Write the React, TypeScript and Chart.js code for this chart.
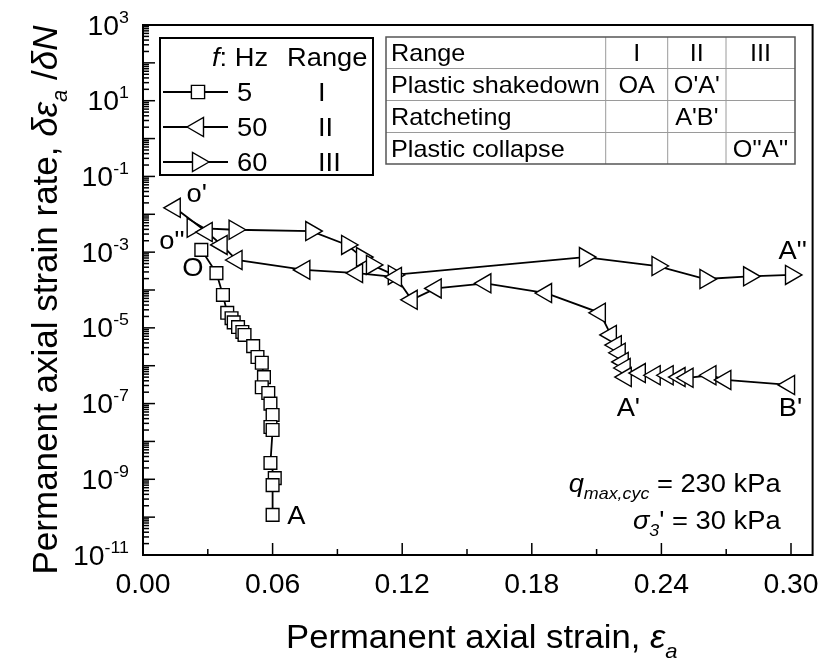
import React, { useEffect, useRef } from 'react';
import { Chart, registerables } from 'chart.js';

Chart.register(...registerables);

// f = 5 Hz, range I: permanent axial strain and its rate per cycle
const STRAIN_5HZ = [0.027, 0.034, 0.037, 0.039, 0.041, 0.042, 0.044, 0.046, 0.047, 0.051, 0.053, 0.055, 0.056, 0.055, 0.058, 0.059, 0.06, 0.059, 0.06, 0.059, 0.061, 0.06, 0.06];
const RATE_5HZ = [1.15e-3, 2.8e-4, 7.4e-5, 2.5e-5, 1.8e-5, 1.4e-5, 1.05e-5, 7.8e-6, 6.5e-6, 3.3e-6, 1.7e-6, 1.2e-6, 5.0e-7, 2.7e-7, 1.9e-7, 1.0e-7, 5.0e-8, 2.4e-8, 2.0e-8, 2.7e-9, 1.07e-9, 7.0e-10, 1.15e-10];

// f = 50 Hz, range II
const STRAIN_50HZ = [0.0147, 0.0295, 0.0364, 0.0433, 0.0747, 0.0991, 0.1171, 0.1244, 0.1355, 0.1585, 0.1866, 0.2115, 0.2166, 0.2189, 0.2207, 0.2221, 0.223, 0.2235, 0.23, 0.2369, 0.2429, 0.2484, 0.2521, 0.2627, 0.2696, 0.2991];
const RATE_50HZ = [1.48e-2, 3.4e-3, 1.55e-3, 6.2e-4, 3.4e-4, 2.8e-4, 2.2e-4, 5.5e-5, 1.1e-4, 1.5e-4, 8.3e-5, 2.5e-5, 6.5e-6, 3.5e-6, 2.2e-6, 1.26e-6, 8.7e-7, 5.0e-7, 6.4e-7, 5.6e-7, 5.6e-7, 5.0e-7, 4.8e-7, 5.6e-7, 4.2e-7, 3.1e-7];

// f = 60 Hz, range III
const STRAIN_60HZ = [0.023, 0.0424, 0.0779, 0.0945, 0.1014, 0.106, 0.1161, 0.2046, 0.2382, 0.2604, 0.2806, 0.3];
const RATE_60HZ = [4.4e-3, 3.9e-3, 3.6e-3, 1.55e-3, 7.4e-4, 4.6e-4, 2.5e-4, 7.4e-4, 4.3e-4, 1.95e-4, 2.3e-4, 2.5e-4];

// Axis ticks
const X_MIN = 0;
const X_MAX = 0.31;
const X_TICKS = [0, 0.06, 0.12, 0.18, 0.24, 0.3];
const X_MINOR_TICKS = [0.03, 0.09, 0.15, 0.21, 0.27];
const Y_MIN_EXP = -11;
const Y_MAX_EXP = 3;
const Y_LABEL_EXPS = [3, 1, -1, -3, -5, -7, -9, -11];

// Legend rows
const FREQS = ['5', '50', '60'];
const RANGES = ['I', 'II', 'III'];
const MARKERS = ['square', 'left', 'right'];

// Behaviour table
const TABLE_HEAD = ['Range', 'I', 'II', 'III'];
const TABLE_ROW_NAMES = ['Plastic shakedown', 'Ratcheting', 'Plastic collapse'];
const TABLE_RANGE_I = ['OA', '', ''];
const TABLE_RANGE_II = ["O'A'", "A'B'", ''];
const TABLE_RANGE_III = ['', '', "O''A''"];

// Point labels placed in data coordinates
const POINT_LABEL_TEXT = ["o'", "o''", 'O', 'A', "A'", "B'", "A''"];
const POINT_LABEL_X = [0.0249, 0.0134, 0.0231, 0.071, 0.2247, 0.2998, 0.3008];
const POINT_LABEL_Y = [3.6e-2, 2.1e-3, 4.1e-4, 1.15e-10, 8.1e-8, 8.1e-8, 1.14e-3];

const FONT = '"Liberation Sans", Arial, sans-serif';
const SX = 1.05;

type Seg = { t: string; size: number; italic?: boolean; dy?: number };

function fontOf(s: Seg) {
  return `${s.italic ? 'italic ' : ''}${s.size}px ${FONT}`;
}

function drawRich(ctx: CanvasRenderingContext2D, segs: Seg[], x: number, y: number, align: 'left' | 'center' | 'right', sx = SX) {
  const widths = segs.map((s) => {
    ctx.font = fontOf(s);
    return ctx.measureText(s.t).width * sx;
  });
  const total = widths.reduce((a, b) => a + b, 0);
  let cx = align === 'left' ? x : align === 'center' ? x - total / 2 : x - total;
  ctx.textAlign = 'left';
  ctx.textBaseline = 'alphabetic';
  segs.forEach((s, i) => {
    ctx.font = fontOf(s);
    ctx.save();
    ctx.translate(cx, y + (s.dy || 0));
    ctx.scale(sx, 1);
    ctx.fillText(s.t, 0, 0);
    ctx.restore();
    cx += widths[i];
  });
}

function drawMarker(ctx: CanvasRenderingContext2D, kind: string, x: number, y: number) {
  ctx.beginPath();
  if (kind === 'square') {
    const h = 6.6;
    ctx.rect(x - h, y - h, 2 * h, 2 * h);
  } else {
    const r = 11;
    const d = kind === 'left' ? -1 : 1;
    ctx.moveTo(x + d * r, y);
    ctx.lineTo(x - (d * r) / 2, y + r * 0.866);
    ctx.lineTo(x - (d * r) / 2, y - r * 0.866);
    ctx.closePath();
  }
  ctx.fillStyle = '#fff';
  ctx.fill();
  ctx.lineWidth = 1.4;
  ctx.strokeStyle = '#000';
  ctx.stroke();
}

function line(ctx: CanvasRenderingContext2D, x1: number, y1: number, x2: number, y2: number) {
  ctx.beginPath();
  ctx.moveTo(x1, y1);
  ctx.lineTo(x2, y2);
  ctx.stroke();
}

const axesPlugin = {
  id: 'originAxes',
  beforeDatasetsDraw(chart: any) {
    const { ctx, chartArea } = chart;
    const { left, right, top, bottom } = chartArea;
    const xs = chart.scales.x;
    const ys = chart.scales.y;
    ctx.save();
    ctx.strokeStyle = '#000';
    ctx.lineWidth = 1.5;
    // inward x ticks
    X_TICKS.forEach((v) => {
      const px = xs.getPixelForValue(v);
      line(ctx, px, bottom, px, bottom - 12);
    });
    X_MINOR_TICKS.forEach((v) => {
      const px = xs.getPixelForValue(v);
      line(ctx, px, bottom, px, bottom - 6);
    });
    // inward y ticks on the log axis
    for (let e = Y_MIN_EXP; e <= Y_MAX_EXP; e++) {
      const py = ys.getPixelForValue(Math.pow(10, e));
      line(ctx, left, py, left + 12, py);
      if (e < Y_MAX_EXP) {
        for (let m = 2; m <= 9; m++) {
          const pm = ys.getPixelForValue(m * Math.pow(10, e));
          line(ctx, left, pm, left + 6, pm);
        }
      }
    }
    // frame
    ctx.lineWidth = 2;
    ctx.strokeRect(left, top, right - left, bottom - top);
    ctx.restore();
  },
  afterDatasetsDraw(chart: any) {
    const { ctx, chartArea } = chart;
    const { left, right, top, bottom } = chartArea;
    const xs = chart.scales.x;
    const ys = chart.scales.y;
    ctx.save();
    ctx.fillStyle = '#000';

    // x tick labels
    X_TICKS.forEach((v) => {
      drawRich(ctx, [{ t: v.toFixed(2), size: 27 }], xs.getPixelForValue(v), bottom + 38, 'center');
    });
    // y tick labels as powers of ten
    Y_LABEL_EXPS.forEach((e) => {
      const py = ys.getPixelForValue(Math.pow(10, e));
      drawRich(ctx, [{ t: '10', size: 27 }, { t: String(e), size: 17, dy: -12 }], left - 14, py + 9.5, 'right');
    });

    // axis titles
    const cx = (left + right) / 2;
    drawRich(
      ctx,
      [
        { t: 'Permanent axial strain, ', size: 33 },
        { t: 'ε', size: 33, italic: true },
        { t: 'a', size: 21, italic: true, dy: 10 },
      ],
      cx + 4,
      bottom + 93,
      'center'
    );
    ctx.save();
    ctx.translate(57, 300);
    ctx.rotate(-Math.PI / 2);
    drawRich(
      ctx,
      [
        { t: 'Permanent axial strain rate, ', size: 35 },
        { t: 'δε', size: 35, italic: true },
        { t: 'a', size: 22, italic: true, dy: 10 },
        { t: ' /', size: 35 },
        { t: 'δN', size: 35, italic: true },
      ],
      0,
      0,
      'center',
      1
    );
    ctx.restore();

    // point labels
    POINT_LABEL_TEXT.forEach((t, i) => {
      const px = xs.getPixelForValue(POINT_LABEL_X[i]);
      const py = ys.getPixelForValue(POINT_LABEL_Y[i]);
      drawRich(ctx, [{ t, size: 26 }], px, py + 9, 'center');
    });

    // loading conditions
    drawRich(
      ctx,
      [
        { t: 'q', size: 26, italic: true },
        { t: 'max,cyc', size: 17, italic: true, dy: 7 },
        { t: ' = 230 kPa', size: 26 },
      ],
      right - 32,
      bottom - 63,
      'right'
    );
    drawRich(
      ctx,
      [
        { t: 'σ', size: 26, italic: true },
        { t: '3', size: 17, italic: true, dy: 7 },
        { t: "' = 30 kPa", size: 26 },
      ],
      right - 32,
      bottom - 26,
      'right'
    );

    // legend box
    const lx = left + 17;
    const ly = top + 13;
    ctx.fillStyle = '#fff';
    ctx.fillRect(lx, ly, 213, 137);
    ctx.strokeStyle = '#000';
    ctx.lineWidth = 2;
    ctx.strokeRect(lx, ly, 213, 137);
    ctx.fillStyle = '#000';
    drawRich(ctx, [{ t: 'f', size: 26, italic: true }, { t: ': Hz', size: 26 }], lx + 52, ly + 28, 'left');
    drawRich(ctx, [{ t: 'Range', size: 26 }], lx + 127, ly + 28, 'left');
    FREQS.forEach((f, i) => {
      const ry = ly + 54 + i * 35;
      ctx.strokeStyle = '#000';
      ctx.lineWidth = 1.8;
      line(ctx, lx + 3, ry, lx + 68, ry);
      drawMarker(ctx, MARKERS[i], lx + 38, ry);
      ctx.fillStyle = '#000';
      drawRich(ctx, [{ t: f, size: 26 }], lx + 77, ry + 9, 'left');
      drawRich(ctx, [{ t: RANGES[i], size: 26 }], lx + 158, ry + 9, 'left');
    });

    // behaviour table
    const colX = [386, 605.7, 667.7, 726, 795];
    const rowY = [37, 68.5, 100.5, 132.5, 164];
    ctx.fillStyle = '#fff';
    ctx.fillRect(colX[0], rowY[0], colX[4] - colX[0], rowY[4] - rowY[0]);
    ctx.strokeStyle = '#9a9a9a';
    ctx.lineWidth = 1;
    for (let c = 1; c < 4; c++) line(ctx, colX[c], rowY[0], colX[c], rowY[4]);
    for (let r = 1; r < 4; r++) line(ctx, colX[0], rowY[r], colX[4], rowY[r]);
    ctx.strokeStyle = '#555';
    ctx.lineWidth = 1.5;
    ctx.strokeRect(colX[0], rowY[0], colX[4] - colX[0], rowY[4] - rowY[0]);
    ctx.fillStyle = '#000';
    const rows = [TABLE_HEAD].concat(TABLE_ROW_NAMES.map((n, i) => [n, TABLE_RANGE_I[i], TABLE_RANGE_II[i], TABLE_RANGE_III[i]]));
    rows.forEach((cells, r) => {
      const by = (rowY[r] + rowY[r + 1]) / 2 + 8.5;
      cells.forEach((t, c) => {
        if (!t) return;
        if (c === 0) drawRich(ctx, [{ t, size: 24 }], colX[0] + 5, by, 'left');
        else drawRich(ctx, [{ t, size: 24 }], (colX[c] + colX[c + 1]) / 2, by, 'center');
      });
    });
    ctx.restore();
  },
};

function series(xsArr: number[], ysArr: number[], style: string, rotation: number, radius: number) {
  return {
    data: xsArr.map((x, i) => ({ x, y: ysArr[i] })),
    showLine: true,
    borderColor: '#000',
    borderWidth: 1.8,
    pointStyle: style,
    pointRotation: rotation,
    pointRadius: radius,
    pointBorderWidth: 1.4,
    pointBorderColor: '#000',
    pointBackgroundColor: '#fff',
    tension: 0,
  };
}

export default function App() {
  const ref = useRef<HTMLCanvasElement | null>(null);

  useEffect(() => {
    if (!ref.current) return;
    const chart = new Chart(ref.current, {
      type: 'scatter',
      data: {
        datasets: [
          series(STRAIN_5HZ, RATE_5HZ, 'rect', 0, 9),
          series(STRAIN_50HZ, RATE_50HZ, 'triangle', -90, 11),
          series(STRAIN_60HZ, RATE_60HZ, 'triangle', 90, 11),
        ] as any,
      },
      options: {
        animation: false,
        responsive: false,
        devicePixelRatio: 1,
        events: [],
        layout: { padding: { left: 143, top: 25, right: 10, bottom: 113 } },
        plugins: { legend: { display: false }, tooltip: { enabled: false } },
        scales: {
          x: { type: 'linear', display: false, min: X_MIN, max: X_MAX },
          y: { type: 'logarithmic', display: false, min: Math.pow(10, Y_MIN_EXP), max: Math.pow(10, Y_MAX_EXP) },
        },
      } as any,
      plugins: [axesPlugin],
    });
    return () => chart.destroy();
  }, []);

  return (
    <div style={{ position: 'absolute', left: 0, top: 0, width: 825, height: 668, background: '#fff' }}>
      <canvas ref={ref} width={825} height={668} />
    </div>
  );
}
